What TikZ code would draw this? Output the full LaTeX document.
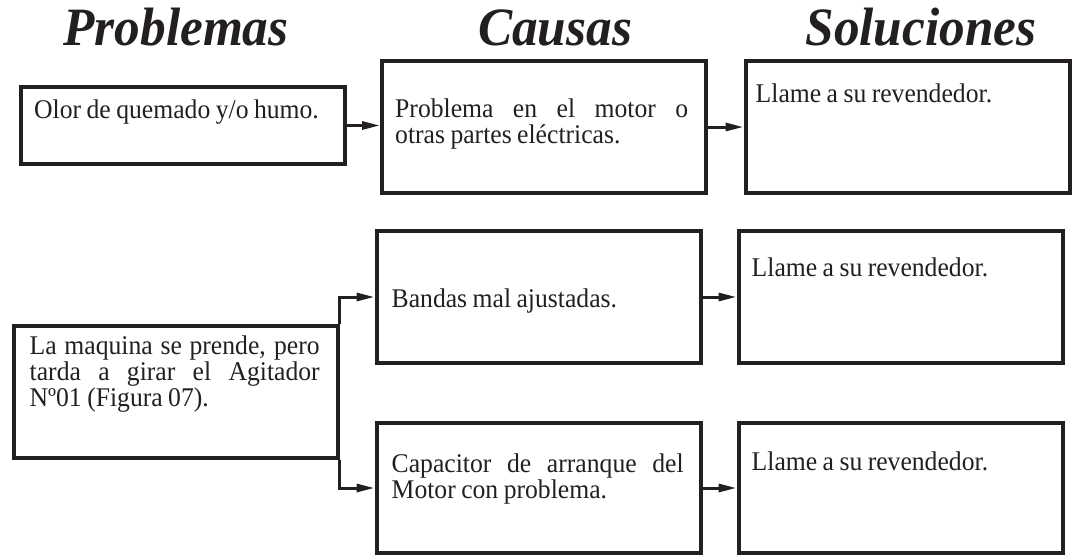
\documentclass[tikz,border=0pt]{standalone}
\usepackage{fontspec}
\setmainfont{Liberation Serif}[WordSpace=0.85,FakeStretch=0.95]
\newfontfamily\titlefont{Liberation Serif}[FakeStretch=0.95]
\usetikzlibrary{arrows.meta}
\definecolor{tinta}{HTML}{231F20}
\hyphenpenalty=10000
\exhyphenpenalty=10000

\begin{document}
\begin{tikzpicture}[x=1pt,y=-1pt,color=tinta,
        box/.style={draw,line width=4pt,minimum width=324pt,minimum height=132pt,inner sep=0pt},%frame of a field
        txt/.style={anchor=north west,inner sep=0pt,font=\fontsize{27}{26}\selectfont},%text inside a field
        just/.style={txt,text width=292pt,align=justify},
        titulo/.style={anchor=base,inner sep=0pt,font=\titlefont\fontsize{54}{58}\selectfont\bfseries\itshape},
        flecha/.style={line width=3pt,-{Triangle[length=18pt,width=8pt]}}
                ]
\useasboundingbox (0,0) rectangle (1078,555);
% column heads
\node[titulo] (tprob) at (176,45) {Problemas};
\node[titulo] (tcaus) at (555,45) {Causas};
\node[titulo] (tsol)  at (921,45) {Soluciones};
% first row
\node[box,minimum height=77pt] (olor) at (183,125.5) {};
\node[box] (motor) at (544,127) {};
\node[box] (sol1)  at (907.5,127) {};
% second row
\node[box] (maq)    at (175.5,392) {};
\node[box] (bandas) at (538.5,297) {};
\node[box,minimum height=130pt] (capac) at (538.5,488) {};
\node[box] (sol2)   at (900.5,297) {};
\node[box,minimum height=130pt] (sol3) at (900.5,488) {};
% texts
\node[txt] (olortxt) at ([shift={(15,15)}]olor.north west) {Olor de quemado y/o humo.};
\node[just,text width=293pt] (motortxt) at ([shift={(15,40)}]motor.north west)
     {Problema en el motor o\linebreak otras partes eléctricas.};
\node[txt] (sol1txt) at ([shift={(12,25)}]sol1.north west) {Llame a su revendedor.};
\node[just,text width=290pt] (maqtxt) at ([shift={(18,12)}]maq.north west)
     {La maquina se prende, pero\linebreak tarda a girar el Agitador\linebreak Nº01 (Figura 07).};
\node[txt] (bandastxt) at ([shift={(17,60)}]bandas.north west) {Bandas mal ajustadas.};
\node[just] (capactxt) at ([shift={(17,33)}]capac.north west)
     {Capacitor de arranque del\linebreak Motor con problema.};
\node[txt] (sol2txt) at ([shift={(15,29)}]sol2.north west) {Llame a su revendedor.};
\node[txt] (sol3txt) at ([shift={(15,31)}]sol3.north west) {Llame a su revendedor.};
% arrows
\draw[flecha] (olor.east) -- (olor.east -| motor.west);
\draw[flecha] (motor) -- (sol1);
\draw[flecha] (maq.north east) |- (bandas.west);
\draw[flecha] (maq.south east) |- (capac.west);
\draw[flecha] (bandas) -- (sol2);
\draw[flecha] (capac) -- (sol3);
\end{tikzpicture}
\end{document}
